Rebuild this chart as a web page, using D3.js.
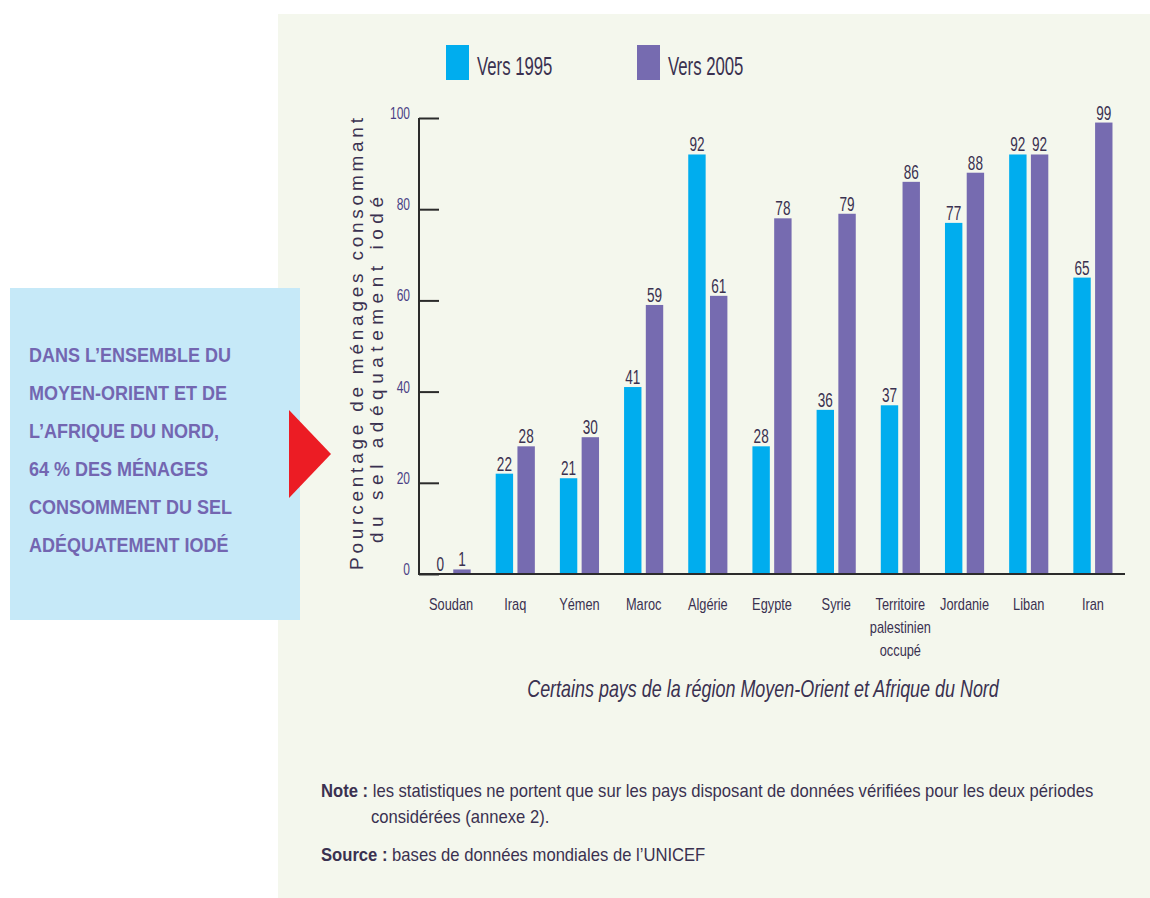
<!DOCTYPE html>
<html>
<head>
<meta charset="utf-8">
<script src="https://cdn.jsdelivr.net/npm/d3@7"></script>
<style>
  html, body { margin: 0; padding: 0; background: #ffffff; }
  svg { display: block; font-family: "Liberation Sans", Arial, sans-serif; }
</style>
</head>
<body>
<svg id="chart" width="1150" height="898"></svg>
<script>
// Households consuming adequately iodized salt, by country (%)
const countries = ["Soudan", "Iraq", "Yémen", "Maroc", "Algérie", "Egypte", "Syrie",
                   "Territoire\npalestinien\noccupé", "Jordanie", "Liban", "Iran"];
const values1995 = [0, 22, 21, 41, 92, 28, 36, 37, 77, 92, 65];
const values2005 = [1, 28, 30, 59, 61, 78, 79, 86, 88, 92, 99];
const seriesNames = ["Vers 1995", "Vers 2005"];
const yTicks = [0, 20, 40, 60, 80, 100];
const yTitle = ["Pourcentage de ménages consommant", "du sel adéquatement iodé"];
const xTitle = "Certains pays de la région Moyen-Orient et Afrique du Nord";
const boxLines = ["DANS L’ENSEMBLE DU", "MOYEN-ORIENT ET DE", "L’AFRIQUE DU NORD,",
                  "64 % DES MÉNAGES", "CONSOMMENT DU SEL", "ADÉQUATEMENT IODÉ"];

const colors = { "Vers 1995": "#00adee", "Vers 2005": "#766bb0" };
const textDark = "#3a3150";

const svg = d3.select("#chart");

// condensed text: horizontal squeeze around the anchor point
function ctext(parent, x, y, str, o) {
  const g = parent.append("g").attr("transform", `translate(${x},${y}) scale(${o.sx || 1},1)`);
  return g.append("text")
    .attr("text-anchor", o.anchor || "start")
    .attr("font-size", o.size)
    .attr("font-weight", o.weight || "normal")
    .attr("font-style", o.style || "normal")
    .attr("fill", o.fill || textDark)
    .text(str);
}

// panel backgrounds
svg.append("rect").attr("x", 278).attr("y", 14).attr("width", 872).attr("height", 884).attr("fill", "#f4f7ed");
svg.append("rect").attr("x", 10).attr("y", 288).attr("width", 290).attr("height", 332).attr("fill", "#c6e9f8");
svg.append("path").attr("d", "M289,410 L331,454 L289,498 Z").attr("fill", "#ec1c24");

boxLines.forEach((line, i) => {
  ctext(svg, 29, 362 + i * 38, line, { size: 20, weight: "bold", sx: 0.9, fill: "#7366b1" });
});

// scales
const x = d3.scaleBand().domain(countries).range([419, 1125]).paddingInner(0.39).paddingOuter(0.195);
const xs = d3.scaleBand().domain(seriesNames).range([0, x.bandwidth()]).paddingInner(0.2);
const y = d3.scaleLinear().domain([0, 100]).range([574, 118]);

const data = countries.map((c, i) => ({ c, vals: [values1995[i], values2005[i]] }));

// bars
const groups = svg.append("g").selectAll("g").data(data).join("g")
  .attr("transform", d => `translate(${x(d.c)},0)`);

groups.selectAll("rect").data(d => d.vals.map((v, k) => ({ s: seriesNames[k], v })))
  .join("rect")
  .attr("x", d => xs(d.s))
  .attr("y", d => y(d.v))
  .attr("width", xs.bandwidth())
  .attr("height", d => y(0) - y(d.v))
  .attr("fill", d => colors[d.s]);

groups.each(function(d) {
  const g = d3.select(this);
  d.vals.forEach((v, k) => {
    ctext(g, xs(seriesNames[k]) + xs.bandwidth() / 2, y(v) - 3, String(v),
      { size: 20, sx: 0.68, anchor: "middle" });
  });
});

// y axis: line with inward ticks
const yAxis = svg.append("g").attr("transform", "translate(419,0)")
  .call(d3.axisRight(y).tickValues(yTicks).tickSize(20).tickFormat(""));
yAxis.select(".domain").remove();
yAxis.selectAll(".tick line").attr("stroke", "#2b2b2b").attr("stroke-width", 2);
svg.append("line").attr("x1", 419).attr("x2", 419).attr("y1", y(100)).attr("y2", y(0) + 1)
  .attr("stroke", "#2b2b2b").attr("stroke-width", 2);
yTicks.forEach(t => {
  ctext(svg, 410, y(t) + 1, String(t), { size: 16, sx: 0.75, anchor: "end", fill: "#4a3f85" });
});

// x axis baseline
const xAxis = svg.append("g").attr("transform", `translate(0,${y(0)})`)
  .call(d3.axisBottom(x).tickSize(0).tickFormat(""));
xAxis.select(".domain").attr("stroke", "#2b2b2b").attr("stroke-width", 2)
  .attr("d", "M418,0H1125");

// category labels
countries.forEach(c => {
  c.split("\n").forEach((part, j) => {
    ctext(svg, x(c) + x.bandwidth() / 2, 610 + j * 23, part,
      { size: 16, sx: 0.8, anchor: "middle" });
  });
});

// y title (letter-spaced, rotated)
const yt = svg.append("g");
[[357, 344, 452], [377, 370, 346]].forEach(([cx, cy, len], i) => {
  yt.append("text")
    .attr("transform", `translate(${cx + 6},${cy}) rotate(-90)`)
    .attr("text-anchor", "middle")
    .attr("font-size", 19)
    .attr("fill", textDark)
    .attr("textLength", len)
    .attr("lengthAdjust", "spacing")
    .text(yTitle[i]);
});

// x title
ctext(svg, 763, 697, xTitle, { size: 23, sx: 0.78, anchor: "middle", style: "italic" });

// legend
seriesNames.forEach((s, i) => {
  const lx = [446, 637][i];
  svg.append("rect").attr("x", lx).attr("y", 45).attr("width", 23).attr("height", 35).attr("fill", colors[s]);
  ctext(svg, lx + 31, 75, s, { size: 25, sx: 0.67 });
});

// notes
const noteStyle = { size: 19, sx: 0.875 };
const n1 = ctext(svg, 321, 797, "", noteStyle);
n1.append("tspan").attr("font-weight", "bold").text("Note : ");
n1.append("tspan").text("les statistiques ne portent que sur les pays disposant de données vérifiées pour les deux périodes");
ctext(svg, 371, 823, "considérées (annexe 2).", noteStyle);
const n2 = ctext(svg, 321, 861, "", noteStyle);
n2.append("tspan").attr("font-weight", "bold").text("Source : ");
n2.append("tspan").text("bases de données mondiales de l’UNICEF");
</script>
</body>
</html>
